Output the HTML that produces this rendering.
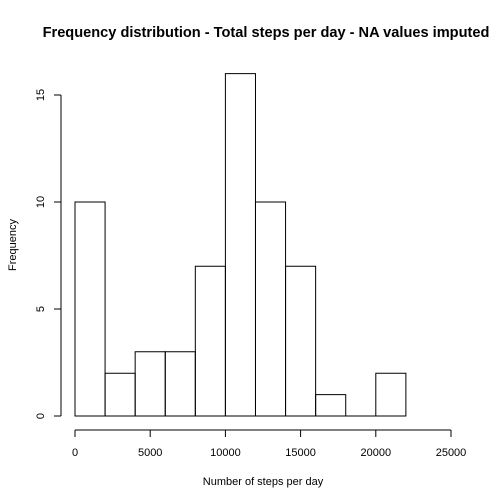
<!DOCTYPE html>
<html><head><meta charset="utf-8"><style>html,body{margin:0;padding:0;background:#fff}svg{display:block}text{font-family:"Liberation Sans",sans-serif;fill:#000}</style></head>
<body>
<svg id="chart" width="504" height="504" viewBox="0 0 504 504">
<text x="266" y="37" text-anchor="middle" font-size="14.6" font-weight="bold">Frequency distribution - Total steps per day - NA values imputed</text>
<text x="263" y="485" text-anchor="middle" font-size="11">Number of steps per day</text>
<text transform="translate(16,245) rotate(-90)" text-anchor="middle" font-size="11">Frequency</text>
<g id="bars"></g><g id="xaxis"></g><g id="yaxis"></g>
</svg>
<script>
const binStarts = [0,2000,4000,6000,8000,10000,12000,14000,16000,18000,20000];
const binWidth = 2000;
const counts = [10,2,3,3,7,16,10,7,1,0,2];
const xTicks = [0,5000,10000,15000,20000,25000];
const yTicks = [0,5,10,15];
const NS='http://www.w3.org/2000/svg';
const xs = v => 75 + v*(376/25000);
const ys = v => 416 - v*(321/15);
function mk(tag, attrs, parent){const e=document.createElementNS(NS,tag);for(const k in attrs)e.setAttribute(k,attrs[k]);parent.appendChild(e);return e;}
const bars=document.getElementById('bars');
counts.forEach((c,i)=>{
  const x0=xs(binStarts[i]), x1=xs(binStarts[i]+binWidth), y0=ys(0), y1=ys(c);
  const r=mk('path',{d:`M${x0},${y0}L${x0},${y1}L${x1},${y1}L${x1},${y0}Z`,fill:'none',stroke:'#000','stroke-width':1},bars);
  
  
});
const xa=document.getElementById('xaxis');


mk('line',{x1:xs(xTicks[0]),x2:xs(xTicks[xTicks.length-1]),y1:430,y2:430,stroke:'#000'},xa);
xTicks.forEach(t=>{
  mk('line',{x1:xs(t),x2:xs(t),y1:430,y2:437,stroke:'#000'},xa);
  const tx=mk('text',{x:xs(t),y:456,'text-anchor':'middle','font-size':11},xa);
  tx.textContent=t;
  
  
});
const ya=document.getElementById('yaxis');


mk('line',{x1:61,x2:61,y1:ys(yTicks[0]),y2:ys(yTicks[yTicks.length-1]),stroke:'#000'},ya);
yTicks.forEach(t=>{
  mk('line',{x1:54,x2:61,y1:ys(t),y2:ys(t),stroke:'#000'},ya);
  const tx=mk('text',{transform:`translate(44,${ys(t)}) rotate(-90)`,'text-anchor':'middle','font-size':11},ya);
  tx.textContent=t;
  
  
});
</script>
</body></html>
